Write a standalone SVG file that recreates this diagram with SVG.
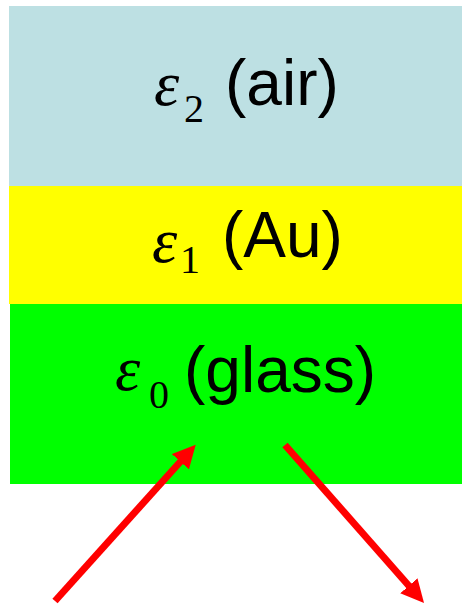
<svg xmlns="http://www.w3.org/2000/svg" width="462" height="605" viewBox="0 0 462 605">
<style>
.eps{font-family:"Liberation Serif","Times New Roman",serif;font-style:italic;font-size:64px;fill:#000}
.sub{font-family:"Liberation Serif","Times New Roman",serif;font-size:40px;fill:#000}
.lbl{font-family:"Liberation Sans",Arial,sans-serif;font-size:64px;fill:#000}
.arrow{stroke:#FF0000;stroke-width:7;fill:none;marker-end:url(#head)}
</style>
<defs>
<marker id="head" viewBox="0 0 24 24" refX="1" refY="12" markerWidth="24" markerHeight="24" markerUnits="userSpaceOnUse" orient="auto">
<path d="M0,0.5 L23,12 L0,23.5 Z" fill="#FF0000"/>
</marker>
</defs>
<g id="layer-air">
<rect x="9" y="6" width="453" height="180" fill="#BDE0E3"/>
<text><tspan class="eps" x="154" y="105">ε</tspan><tspan class="sub" x="184" y="122">2</tspan><tspan class="lbl" x="225" y="105">(air)</tspan></text>
</g>
<g id="layer-au">
<rect x="9" y="186" width="453" height="118" fill="#FFFF00"/>
<text><tspan class="eps" x="152" y="262">ε</tspan><tspan class="sub" x="180" y="273">1</tspan><tspan class="lbl" x="222" y="257">(Au)</tspan></text>
</g>
<g id="layer-glass">
<rect x="10" y="304" width="452" height="180" fill="#00FF00"/>
<text><tspan class="eps" x="115" y="390">ε</tspan><tspan class="sub" x="149" y="408">0</tspan><tspan class="lbl" x="184" y="392">(glass)</tspan></text>
</g>
<g id="connectors">
<line class="arrow" x1="55" y1="601" x2="181" y2="461"/>
<line class="arrow" x1="285" y1="445" x2="409.5" y2="586.5"/>
</g>
</svg>
